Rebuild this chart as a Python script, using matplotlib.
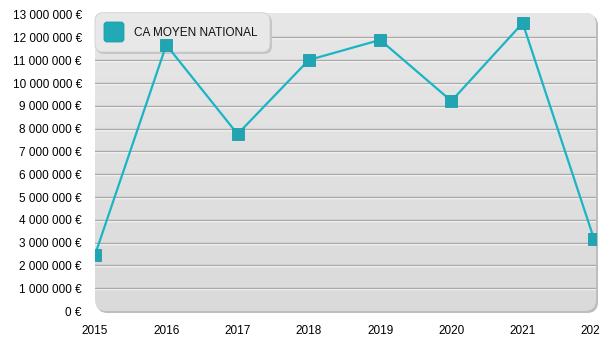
import numpy as np
import matplotlib
matplotlib.use("Agg")
import matplotlib.pyplot as plt
from matplotlib.patches import FancyBboxPatch
from matplotlib.lines import Line2D
from matplotlib.transforms import IdentityTransform, ScaledTranslation
from matplotlib.ticker import FuncFormatter

# Average national turnover per year
years = [2015, 2016, 2017, 2018, 2019, 2020, 2021, 2022]
ca_moyen = [2.46e6, 11.67e6, 7.76e6, 11.01e6, 11.89e6, 9.21e6, 12.63e6, 3.16e6]
series_label = "CA MOYEN NATIONAL"
y_ticks = list(range(0, 13_000_001, 1_000_000))

W, H, DPI = 600, 350, 100
plt.rcParams["font.family"] = ["Liberation Sans", "DejaVu Sans"]

fig = plt.figure(figsize=(W / DPI, H / DPI), dpi=DPI)
fig.patch.set_facecolor("white")

# plot frame in pixel units (left, top, right, bottom measured from top-left)
L, T, R, B = 95, 12.5, 596, 311
rect = [L / W, (H - B) / H, (R - L) / W, (B - T) / H]


def px_rect(x0, y0, x1, y1, radius, **kw):
    return FancyBboxPatch((x0, H - y1), x1 - x0, y1 - y0,
                          boxstyle=f"round,pad=0,rounding_size={radius}",
                          transform=IdentityTransform(), **kw)


# main data axes (drawn on top of the decoration layers)
ax = fig.add_axes(rect, zorder=1)
ax.set_facecolor("none")
for s in ax.spines.values():
    s.set_visible(False)
x_max = 2022 + (R - 594) / 71.0
y_top = 13e6 * (B - T) / (B - 14.6)
ax.set_xlim(2015, x_max)
ax.set_ylim(0, y_top)

# shadow under the plotting area
shadow = px_rect(L + 1.5, T + 2, R + 2, B + 2, 11,
                 facecolor="#bdbdbd", edgecolor="none")
shadow.set_zorder(0.1)
fig.patches.append(shadow)

# rounded background with a soft vertical gradient and the grid
bg = fig.add_axes(rect, zorder=0.2)
bg.set_axis_off()
bg_patch = px_rect(L, T, R, B, 11, facecolor="none", edgecolor="none")
grad = np.linspace(0.855, 0.905, 256).reshape(-1, 1)
im = bg.imshow(np.dstack([grad, grad, grad]), extent=(0, 1, 0, 1),
               origin="lower", aspect="auto", interpolation="bilinear")
im.set_clip_path(bg_patch)
bg.set_xlim(0, 1)
bg.set_ylim(0, 1)

shift = ScaledTranslation(0, -1 / DPI, fig.dpi_scale_trans)
ytrans = ax.get_yaxis_transform()
for v in y_ticks[1:-1]:
    bg.add_line(Line2D([0, 1], [v, v], color="white", lw=1.0,
                       transform=ytrans + shift, zorder=2))
    bg.add_line(Line2D([0, 1], [v, v], color="#a9a9a9", lw=1.0,
                       transform=ytrans, zorder=3))

# legend box (above the grid, below the data)
for p in (px_rect(96, 14.5, 272, 54, 8, facecolor="#c4c4c4", edgecolor="none"),
          px_rect(95, 12.7, 270, 52, 8, facecolor="#e8e8e8",
                  edgecolor="#d0d0d0", lw=0.6),
          px_rect(104, 22, 124, 42, 3, facecolor="#22a9b6",
                  edgecolor="#1d9eab", lw=0.6)):
    p.set_zorder(0.5)
    fig.patches.append(p)
fig.text(134 / W, 1 - 32.5 / H, series_label, fontsize=8.5, ha="left",
         va="center", color="#111111", zorder=0.6)

ax.plot(years, ca_moyen, color="#1ab5c5", lw=1.6, zorder=3, solid_joinstyle="miter")
ax.plot(years, ca_moyen, ls="none", marker="s", ms=9.2, mfc="#22a5b3",
        mec="#1e9daa", mew=0.6, zorder=4)

ax.set_xticks(years)
ax.set_xticklabels([str(y) for y in years])
ax.set_yticks(y_ticks)
ax.yaxis.set_major_formatter(FuncFormatter(
    lambda v, _: f"{int(round(v)):,}".replace(",", " ") + " €"))
ax.tick_params(axis="both", length=0, labelsize=8.5, colors="black")
ax.tick_params(axis="x", pad=10)
ax.tick_params(axis="y", pad=9.5)

fig.savefig("out.png", dpi=DPI)
